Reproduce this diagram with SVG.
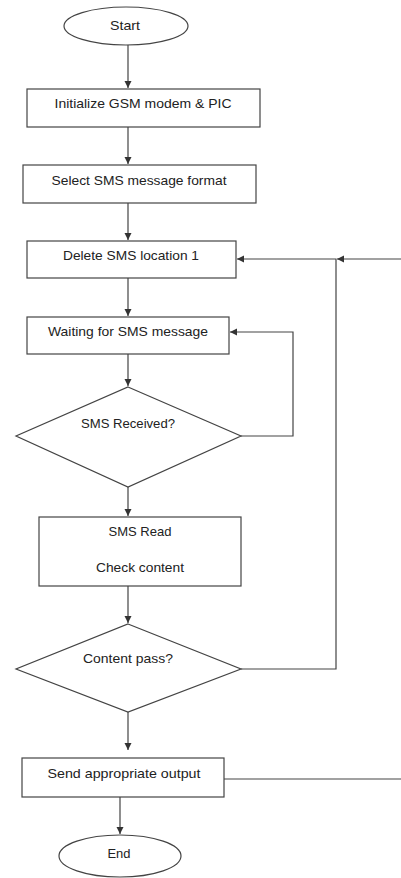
<svg xmlns="http://www.w3.org/2000/svg" width="401" height="878" viewBox="0 0 401 878">
<defs>
<marker id="ah" markerWidth="8" markerHeight="8" refX="7" refY="4" orient="auto" markerUnits="userSpaceOnUse">
<path d="M0,0.5 L7,4 L0,7.5 Z" fill="#333"/>
</marker>
<style>
.s{fill:#fff;stroke:#444;stroke-width:1.2}
.t{font-family:"Liberation Sans",Arial,sans-serif;font-size:13px;fill:#222;text-anchor:middle}
.c{fill:none;stroke:#444;stroke-width:1.2}
</style>
</defs>
<rect width="401" height="878" fill="#fff"/>
<g id="connectors">
<path class="c" d="M128,45 V88" marker-end="url(#ah)"/>
<path class="c" d="M128,127 V164" marker-end="url(#ah)"/>
<path class="c" d="M128,203 V240" marker-end="url(#ah)"/>
<path class="c" d="M128,278 V316" marker-end="url(#ah)"/>
<path class="c" d="M128,354 V386" marker-end="url(#ah)"/>
<path class="c" d="M241,436 H293 V332 H230" marker-end="url(#ah)"/>
<path class="c" d="M128,487 V516" marker-end="url(#ah)"/>
<path class="c" d="M128,586 V623" marker-end="url(#ah)"/>
<path class="c" d="M241,669 H336 V259 H237" marker-end="url(#ah)"/>
<path class="c" d="M401,259 H337" marker-end="url(#ah)"/>
<path class="c" d="M128,712 V750" marker-end="url(#ah)"/>
<path class="c" d="M224,779 H401"/>
<path class="c" d="M120,797 V834" marker-end="url(#ah)"/>
</g>
<g id="start">
<ellipse class="s" cx="126" cy="26" rx="62" ry="19"/>
<text class="t" x="125" y="30" textLength="30" lengthAdjust="spacingAndGlyphs">Start</text>
</g>
<g id="init">
<rect class="s" x="27" y="89" width="233" height="38"/>
<text class="t" x="143" y="108" textLength="177" lengthAdjust="spacingAndGlyphs">Initialize GSM modem &amp; PIC</text>
</g>
<g id="select">
<rect class="s" x="23" y="165" width="233" height="38"/>
<text class="t" x="139" y="185" textLength="175" lengthAdjust="spacingAndGlyphs">Select SMS message format</text>
</g>
<g id="delete">
<rect class="s" x="27" y="241" width="209" height="37"/>
<text class="t" x="131" y="260" textLength="136" lengthAdjust="spacingAndGlyphs">Delete SMS location 1</text>
</g>
<g id="waiting">
<rect class="s" x="27" y="317" width="202" height="37"/>
<text class="t" x="128" y="336" textLength="160" lengthAdjust="spacingAndGlyphs">Waiting for SMS message</text>
</g>
<g id="received">
<polygon class="s" points="128,387 241,436 128,487 16,436"/>
<text class="t" x="128" y="428" textLength="94" lengthAdjust="spacingAndGlyphs">SMS Received?</text>
</g>
<g id="read">
<rect class="s" x="39" y="517" width="202" height="69"/>
<text class="t" x="140" y="536" textLength="63" lengthAdjust="spacingAndGlyphs">SMS Read</text>
<text class="t" x="140" y="572" textLength="88" lengthAdjust="spacingAndGlyphs">Check content</text>
</g>
<g id="pass">
<polygon class="s" points="128,624 241,669 128,712 16,669"/>
<text class="t" x="128" y="663" textLength="90" lengthAdjust="spacingAndGlyphs">Content pass?</text>
</g>
<g id="send">
<rect class="s" x="22" y="758" width="202" height="39"/>
<text class="t" x="124" y="778" textLength="153" lengthAdjust="spacingAndGlyphs">Send appropriate output</text>
</g>
<g id="end">
<ellipse class="s" cx="120" cy="856" rx="61" ry="21"/>
<text class="t" x="119" y="858" textLength="23" lengthAdjust="spacingAndGlyphs">End</text>
</g>
</svg>
